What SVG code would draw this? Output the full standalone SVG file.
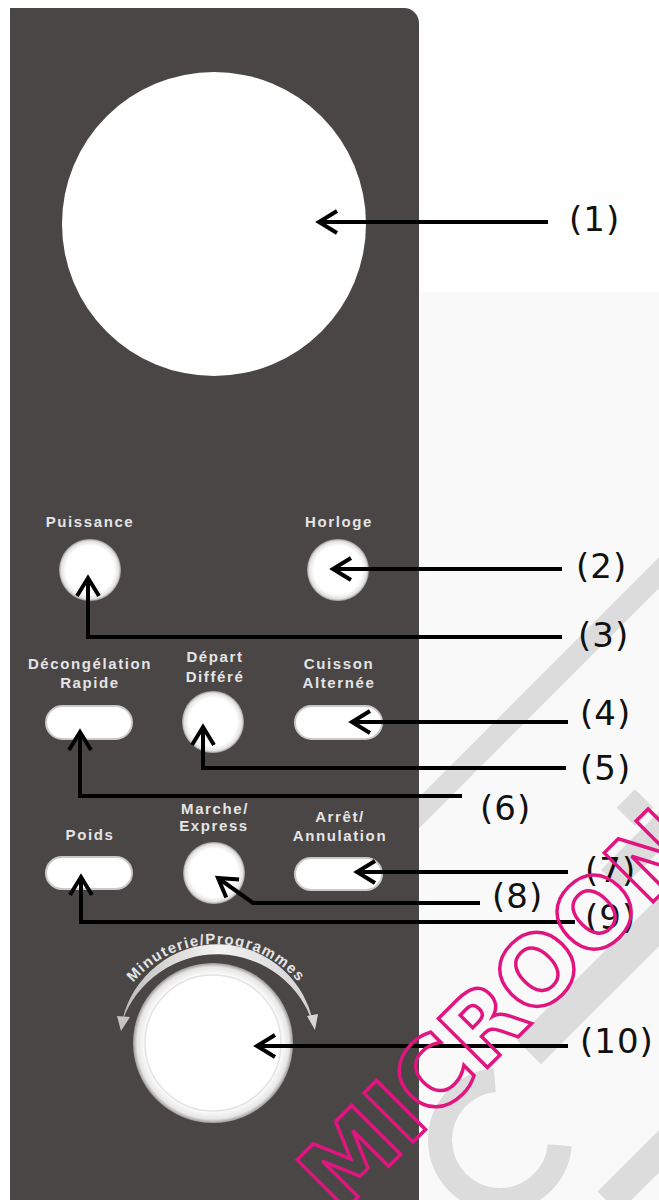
<svg xmlns="http://www.w3.org/2000/svg" width="659" height="1200" viewBox="0 0 659 1200">
<style>
.lbl{font-family:"Liberation Sans",Arial,sans-serif;font-weight:bold;font-size:15px;letter-spacing:1.6px;fill:#e4e4e4;text-anchor:middle}
.num{font-family:"DejaVu Sans",sans-serif;font-size:34px;letter-spacing:1px;fill:#111}
.con{fill:none;stroke:#000;stroke-width:4;marker-start:url(#chev)}
.grey{fill:#dcdcdc}
.btn{fill:url(#btnGrad)}
.pill{fill:#ffffff;stroke:#c9c9c9;stroke-width:2}
</style>
<defs>
<marker id="chev" markerUnits="userSpaceOnUse" orient="auto-start-reverse" refX="0" refY="0" markerWidth="40" markerHeight="40" overflow="visible">
<path d="M-18,-11 L0,0 L-18,11" fill="none" stroke="#000" stroke-width="4"/>
</marker>
<radialGradient id="btnGrad" cx="0.5" cy="0.5" r="0.5">
<stop offset="0.78" stop-color="#ffffff"/>
<stop offset="0.93" stop-color="#e2e2e2"/>
<stop offset="1" stop-color="#9c9a99"/>
</radialGradient>
<radialGradient id="knobGrad" cx="0.5" cy="0.5" r="0.5">
<stop offset="0.84" stop-color="#ffffff"/>
<stop offset="0.95" stop-color="#e6e6e6"/>
<stop offset="1" stop-color="#9c9a99"/>
</radialGradient>
<linearGradient id="arcGrad" x1="0" y1="0" x2="1" y2="0">
<stop offset="0" stop-color="#bdbdbd"/>
<stop offset="0.5" stop-color="#f4f4f4"/>
<stop offset="1" stop-color="#d0d0d0"/>
</linearGradient>
<path id="arcText" d="M114.5,1015.1 A108,108 0 0 1 317.5,1015.1"/>
</defs>

<rect width="659" height="1200" fill="#fefefe"/>
<rect x="420" y="292" width="239" height="908" fill="#f9f9f9"/>

<g id="watermark-grey" transform="rotate(-45)">
<rect class="grey" x="-290" y="860" width="440" height="22"/>
<rect class="grey" x="-135" y="1007" width="26" height="26"/>
<rect class="grey" x="-190" y="1040" width="390" height="28"/>
<rect class="grey" x="-370" y="1100" width="370" height="35"/>
<rect class="grey" x="-420" y="1265" width="120" height="30"/>
</g>
<path d="M494.8,1080.2 A60,60 0 1 0 559.8,1145.2" fill="none" stroke="#dcdcdc" stroke-width="24"/>

<g id="panel">
<path d="M10,8 H404 A15,15 0 0 1 419,23 V1200 H10 Z" fill="#4a4645"/>
</g>

<g id="display">
<circle cx="214" cy="224" r="152" fill="#ffffff"/>
</g>

<g id="btn-puissance">
<text class="lbl" x="90" y="527">Puissance</text>
<circle class="btn" cx="90" cy="570" r="31"/>
</g>
<g id="btn-horloge">
<text class="lbl" x="339" y="527">Horloge</text>
<circle class="btn" cx="338" cy="570" r="31"/>
</g>
<g id="btn-decongelation">
<text class="lbl" x="90" y="669">Décongélation</text>
<text class="lbl" x="90" y="688">Rapide</text>
<rect class="pill" x="46" y="706" width="86" height="33" rx="16.5"/>
</g>
<g id="btn-depart">
<text class="lbl" x="215" y="662">Départ</text>
<text class="lbl" x="215" y="682">Différé</text>
<circle class="btn" cx="213" cy="722" r="31"/>
</g>
<g id="btn-cuisson">
<text class="lbl" x="339" y="669">Cuisson</text>
<text class="lbl" x="339" y="688">Alternée</text>
<rect class="pill" x="295" y="706" width="87" height="33" rx="16.5"/>
</g>
<g id="btn-poids">
<text class="lbl" x="90" y="840">Poids</text>
<rect class="pill" x="46" y="857" width="86" height="32" rx="16"/>
</g>
<g id="btn-marche">
<text class="lbl" x="215" y="814">Marche/</text>
<text class="lbl" x="214" y="831">Express</text>
<circle class="btn" cx="214" cy="873" r="31"/>
</g>
<g id="btn-arret">
<text class="lbl" x="340" y="822">Arrêt/</text>
<text class="lbl" x="340" y="841">Annulation</text>
<rect class="pill" x="295" y="858" width="87" height="32" rx="16"/>
</g>

<g id="knob">
<path d="M122,1022 A97.6,97.6 0 0 1 314,1027 A100.8,100.8 0 0 0 122,1022 Z" fill="url(#arcGrad)"/>
<path d="M117,1016 L130,1017 L121,1031 Z" fill="#c4c4c4"/>
<path d="M307,1016 L318,1014 L315,1030 Z" fill="#d6d6d6"/>
<text font-family="Liberation Sans, Arial, sans-serif" font-weight="bold" font-size="15" letter-spacing="1.3" fill="#e4e4e4" text-anchor="middle"><textPath href="#arcText" startOffset="50%">Minuterie/Programmes</textPath></text>
<circle cx="213" cy="1043" r="80" fill="url(#knobGrad)"/>
<circle cx="213" cy="1043" r="68" fill="none" stroke="#e2e2e2" stroke-width="1.5"/>
</g>

<g id="connectors">
<path class="con" d="M319,222 H548"/>
<path class="con" d="M333,569 H562"/>
<path class="con" d="M88,578 V637 H562"/>
<path class="con" d="M352,722 H568"/>
<path class="con" d="M203,727 V768 H566"/>
<path class="con" d="M80,732 V796 H462"/>
<path class="con" d="M357,872 H568"/>
<path class="con" d="M218,878 L253,903 H480"/>
<path class="con" d="M81,877 V922 H575"/>
<path class="con" d="M257,1046 H568"/>
</g>

<g id="callouts">
<text id="c1" class="num" x="569" y="231">(1)</text>
<text id="c2" class="num" x="576" y="578">(2)</text>
<text id="c3" class="num" x="578" y="647">(3)</text>
<text id="c4" class="num" x="580" y="725">(4)</text>
<text id="c5" class="num" x="580" y="780">(5)</text>
<text id="c6" class="num" x="480" y="820">(6)</text>
<text id="c7" class="num" x="585" y="882">(7)</text>
<text id="c8" class="num" x="492" y="908">(8)</text>
<text id="c9" class="num" x="585" y="929">(9)</text>
<text id="c10" class="num" x="580" y="1053">(10)</text>
</g>

<g id="watermark-magenta">
<text transform="translate(340,1215) rotate(-45)" font-family="DejaVu Sans, sans-serif" font-weight="bold" font-size="95" fill="none" stroke="#e0157f" stroke-width="3.5">MICROON</text>
</g>
</svg>
